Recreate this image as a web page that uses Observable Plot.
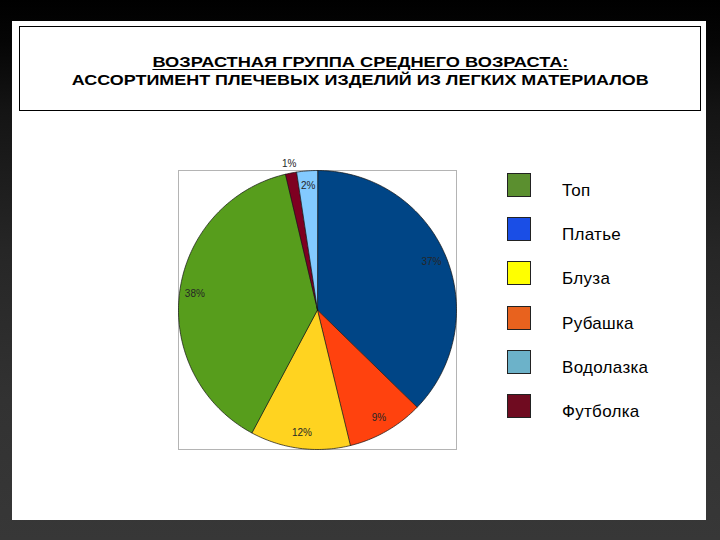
<!DOCTYPE html>
<html>
<head>
<meta charset="utf-8">
<script src="https://cdn.jsdelivr.net/npm/d3@7"></script>
<script src="https://cdn.jsdelivr.net/npm/@observablehq/plot@0.6"></script>
<style>
  html, body { margin: 0; padding: 0; }
  body {
    width: 720px; height: 540px; position: relative; overflow: hidden;
    background: linear-gradient(to bottom, #000 0px, #050505 40px, #141414 110px, #262626 250px, #323232 400px, #373737 540px);
    font-family: "Liberation Sans", Arial, sans-serif;
  }
  #slide { position: absolute; left: 12px; top: 21px; width: 694px; height: 499px; background: #fff; }
  #titlebox {
    position: absolute; left: 19px; top: 26px; width: 680px; height: 83px;
    border: 1px solid #000; background: #fff; text-align: center;
  }
  .tline { position: absolute; left: 0; width: 100%; text-align: center; font-weight: bold; font-size: 15px; line-height: 15px; color: #000; white-space: nowrap; }
  .tline span { display: inline-block; transform-origin: 50% 50%; }
  #t1 { top: 27px; }
  #t1 span { text-decoration: underline; text-decoration-thickness: 1px; text-underline-offset: 2px; }
  #t2 { top: 45px; }
  #chart { position: absolute; left: 0; top: 0; }
  #legend { position: absolute; left: 507px; top: 173px; }
  .item { position: relative; height: 44.2px; }
  .sw { position: absolute; left: 0; top: 0; width: 22px; height: 22px; border: 1px solid #222; }
  .lab { position: absolute; left: 55px; top: 9px; font-size: 17px; line-height: 17px; letter-spacing: 0.3px; color: #000; white-space: nowrap; }
</style>
</head>
<body>
<div id="slide"></div>
<div id="titlebox">
  <div class="tline" id="t1"><span>ВОЗРАСТНАЯ ГРУППА СРЕДНЕГО ВОЗРАСТА:</span></div>
  <div class="tline" id="t2"><span>АССОРТИМЕНТ ПЛЕЧЕВЫХ ИЗДЕЛИЙ ИЗ ЛЕГКИХ МАТЕРИАЛОВ</span></div>
</div>
<div id="chart"></div>
<div id="legend"></div>
<script>
// Pie slices, clockwise from 12 o'clock (values in %)
const sliceNames  = ["Платье", "Рубашка", "Блуза", "Топ", "Футболка", "Водолазка"];
const sliceValues = [37.2, 8.9, 11.6, 38.4, 1.3, 2.4];
const sliceColors = ["#004586", "#ff420e", "#ffd320", "#579d1c", "#7e0021", "#83caff"];

// Legend (order and swatch colours as shown on the slide)
const legendNames  = ["Топ", "Платье", "Блуза", "Рубашка", "Водолазка", "Футболка"];
const legendColors = ["#5b8f2f", "#1a4ee6", "#ffff00", "#e8621e", "#6cb2c9", "#6f0b20"];

// build slice polygons from the data via d3.pie angles
const total = d3.sum(sliceValues);
const arcs = d3.pie().sort(null).value(d => d.value)(
  sliceNames.map((name, i) => ({name, value: sliceValues[i]}))
);
const polyPts = [];
const labelPts = [];
for (const a of arcs) {
  const name = a.data.name;
  polyPts.push({name, x: 0, y: 0});
  const steps = Math.max(2, Math.ceil((a.endAngle - a.startAngle) / (Math.PI / 180)));
  for (let k = 0; k <= steps; k++) {
    const t = a.startAngle + (a.endAngle - a.startAngle) * k / steps;
    polyPts.push({name, x: Math.sin(t), y: Math.cos(t)});
  }
  const pct = a.data.value / total * 100;
  const mid = (a.startAngle + a.endAngle) / 2;
  const r = pct < 1.5 ? 1.07 : 0.89;
  labelPts.push({name, x: r * Math.sin(mid), y: r * Math.cos(mid), label: Math.round(pct) + "%"});
}

const plot = Plot.plot({
  width: 720,
  height: 540,
  marginLeft: 178,
  marginRight: 264,
  marginTop: 170,
  marginBottom: 91,
  style: {background: "transparent", overflow: "visible", fontFamily: "'Liberation Sans', Arial, sans-serif"},
  x: {domain: [-1, 1], axis: null},
  y: {domain: [-1, 1], axis: null},
  color: {domain: sliceNames, range: sliceColors},
  marks: [
    Plot.frame({stroke: "#b4b4b4", strokeWidth: 1}),
    Plot.line(polyPts, {x: "x", y: "y", z: "name", fill: "name", stroke: "#111", strokeWidth: 0.7, curve: "linear-closed"}),
    Plot.text(labelPts, {x: "x", y: "y", text: "label", fontSize: 10, fill: "#262626"})
  ]
});
document.getElementById("chart").appendChild(plot);

// legend
const leg = document.getElementById("legend");
legendNames.forEach((n, i) => {
  const it = document.createElement("div");
  it.className = "item";
  const sw = document.createElement("div");
  sw.className = "sw";
  sw.style.background = legendColors[i];
  const lb = document.createElement("div");
  lb.className = "lab";
  lb.textContent = n;
  it.appendChild(sw); it.appendChild(lb);
  leg.appendChild(it);
});

// stretch title lines to the widths seen on the slide
const targets = {t1: 416, t2: 577};
for (const id in targets) {
  const s = document.querySelector("#" + id + " span");
  const w = s.getBoundingClientRect().width;
  s.style.transform = "scaleX(" + (targets[id] / w) + ")";
}
</script>
</body>
</html>
